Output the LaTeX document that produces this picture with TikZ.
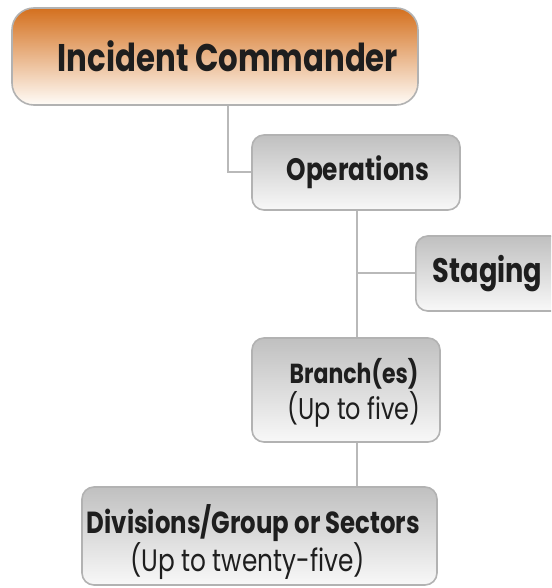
\documentclass[tikz,border=0pt]{standalone}
\usepackage{fontspec}
\setmainfont{Poppins}[FakeStretch=0.8]
\definecolor{orangetop}{RGB}{212,112,30}
\definecolor{orangebot}{RGB}{255,252,248}
\definecolor{graytop}{RGB}{192,192,192}
\definecolor{graybot}{RGB}{248,248,248}
\definecolor{edgegray}{RGB}{178,178,178}
\definecolor{linegray}{RGB}{185,185,185}
\definecolor{txt}{RGB}{30,30,30}
\begin{document}
\begin{tikzpicture}[x=1pt,y=-1pt,
  box/.style={draw=edgegray, line width=1.6pt, rounded corners=12pt,
    top color=graytop, bottom color=graybot, text=txt, inner sep=0pt, align=center},
  icbox/.style={box, rounded corners=22pt, top color=orangetop, bottom color=orangebot},
  lbl/.style={text=txt, inner sep=0pt, align=center},
  conn/.style={draw=linegray, line width=2pt}]
\useasboundingbox (0,0) rectangle (551,588);
\clip (0,0) rectangle (551,588);
\fill[white] (0,0) rectangle (551,588);
% nodes
\node[icbox, minimum width=406pt, minimum height=97pt, font=\fontsize{38.5}{42}\selectfont\bfseries] (ic) at (215,56.5)
  {\hspace*{26pt}Incident Commander};
\node[box, minimum width=208pt, minimum height=75pt, font=\fontsize{31}{35}\selectfont\bfseries] (ops) at (356,172.5)
  {\hspace*{4pt}Operations};
\node[box, minimum width=160pt, minimum height=75pt, anchor=west, text width=126pt, align=left, inner xsep=17pt, font=\fontsize{34}{38}\selectfont\bfseries] (stg) at (415,273.5)
  {Staging};
\node[box, minimum width=188pt, minimum height=104pt] (br) at (346,390) {};
\node[lbl, font=\fontsize{27.5}{36}\selectfont] (brt) at (354,393)
  {\textbf{Branch(es)}\\\fontsize{30}{36}\selectfont (Up to five)};
\node[box, minimum width=355pt, minimum height=98pt] (div) at (259.5,536) {};
\node[lbl, font=\fontsize{30.5}{36}\selectfont] (divt) at (253.5,542)
  {\textbf{Divisions/Group or Sectors}\\\hspace*{-12pt}\fontsize{31}{36}\selectfont (Up to twenty-five)};
% connectors
\coordinate (icdown) at (228,172);
\draw[conn] (ic.south -| icdown) -- (icdown) -- (ops.west |- icdown);
\coordinate (opsx) at (357,273);
\draw[conn] (ops.south -| opsx) -- (br.north -| opsx);
\draw[conn] (opsx) -- (stg.west |- opsx);
\draw[conn] (br.south -| opsx) -- (div.north -| opsx);
\end{tikzpicture}
\end{document}
